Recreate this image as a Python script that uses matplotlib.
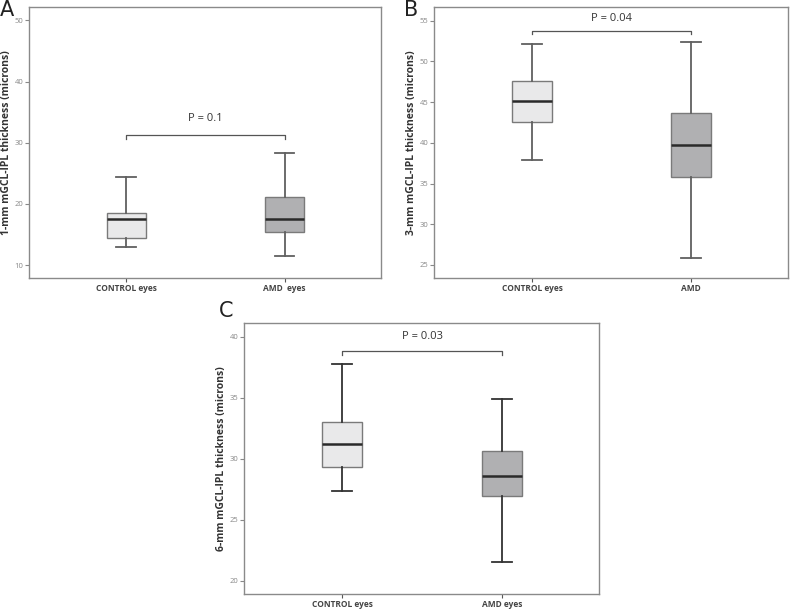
import matplotlib.pyplot as plt

# box statistics (whisker low, Q1, median, Q3, whisker high)
groups_a = ["CONTROL eyes", "AMD  eyes"]
control_a = [13.0, 14.5, 17.5, 18.5, 24.4]
amd_a = [11.5, 15.4, 17.5, 21.1, 28.4]

groups_b = ["CONTROL eyes", "AMD"]
control_b = [37.9, 42.6, 45.1, 47.6, 52.1]
amd_b = [25.8, 35.8, 39.7, 43.7, 52.4]

groups_c = ["CONTROL eyes", "AMD eyes"]
control_c = [27.35, 29.3, 31.2, 33.0, 37.8]
amd_c = [21.5, 26.9, 28.6, 30.6, 34.9]

p_values = ["P = 0.1", "P = 0.04", "P = 0.03"]
bracket_y = [31.2, 53.8, 38.8]
p_text_y = [34.0, 55.3, 40.0]

ylabels = ["1-mm mGCL-IPL thickness (microns)",
           "3-mm mGCL-IPL thickness (microns)",
           "6-mm mGCL-IPL thickness (microns)"]
yticks = [[10, 20, 30, 40, 50], [25, 30, 35, 40, 45, 50, 55], [20, 25, 30, 35, 40]]
ylims = [(7.9, 52.2), (23.4, 56.7), (18.9, 41.15)]
panel_letters = ["A", "B", "C"]

fig = plt.figure(figsize=(7.9, 6.1), dpi=100)
plt.rcParams['font.family'] = ['Open Sans', 'DejaVu Sans']

axes_rects = [
    [0.0367, 0.5443, 0.4456, 0.4443],
    [0.5497, 0.5443, 0.4478, 0.4443],
    [0.3092, 0.0262, 0.4490, 0.4448],
]
letter_pos = [(0.0, 1.0), (0.512, 1.0), (0.277, 0.507)]

panels = [
    (groups_a, control_a, amd_a),
    (groups_b, control_b, amd_b),
    (groups_c, control_c, amd_c),
]


def make_stats(vals, label):
    lo, q1, med, q3, hi = vals
    return {"whislo": lo, "q1": q1, "med": med, "q3": q3, "whishi": hi,
            "fliers": [], "label": label}


for k, (groups, ctrl, amd) in enumerate(panels):
    ax = fig.add_axes(axes_rects[k])
    whisk_col = "#606060" if k < 2 else "#333333"
    stats = [make_stats(ctrl, groups[0]), make_stats(amd, groups[1])]
    bp = ax.bxp(stats, positions=[1, 2], widths=0.25, patch_artist=True,
                showfliers=False,
                boxprops=dict(edgecolor="#7a7a7a", linewidth=1.0),
                medianprops=dict(color="#2a2a2a", linewidth=1.8),
                whiskerprops=dict(color=whisk_col, linewidth=1.3),
                capprops=dict(color=whisk_col, linewidth=1.3))
    bp["boxes"][0].set_facecolor("#e9e9ea")
    bp["boxes"][1].set_facecolor("#b0b0b2")

    # significance bracket
    yb = bracket_y[k]
    tick_h = (ylims[k][1] - ylims[k][0]) * 0.012
    ax.plot([1, 1, 2, 2], [yb - tick_h, yb, yb, yb - tick_h],
            color="#555555", linewidth=0.9)
    ax.text(1.5, p_text_y[k], p_values[k], ha="center", va="center",
            fontsize=8, color="#333333")

    ax.set_xlim(0.385, 2.61)
    ax.set_ylim(*ylims[k])
    ax.set_yticks(yticks[k])
    ax.set_yticklabels([str(t) for t in yticks[k]], fontsize=5.5, color="#888888")
    ax.set_xticks([1, 2])
    ax.set_xticklabels(groups, fontsize=6, fontweight="bold", color="#444444")
    ax.tick_params(axis="y", length=3, width=0.8, color="#888888", pad=1)
    ax.tick_params(axis="x", length=3, width=0.8, color="#555555", pad=1.5)
    ax.set_ylabel(ylabels[k], fontsize=7.5, fontweight="bold", color="#333333",
                  labelpad=2)
    for s in ax.spines.values():
        s.set_color("#8a8a8a")
        s.set_linewidth(1.0)

    fig.text(letter_pos[k][0], letter_pos[k][1], panel_letters[k],
             fontsize=15, ha="left", va="top", color="#222222",
             family=["DejaVu Sans"])

fig.savefig("out.png", dpi=100)
